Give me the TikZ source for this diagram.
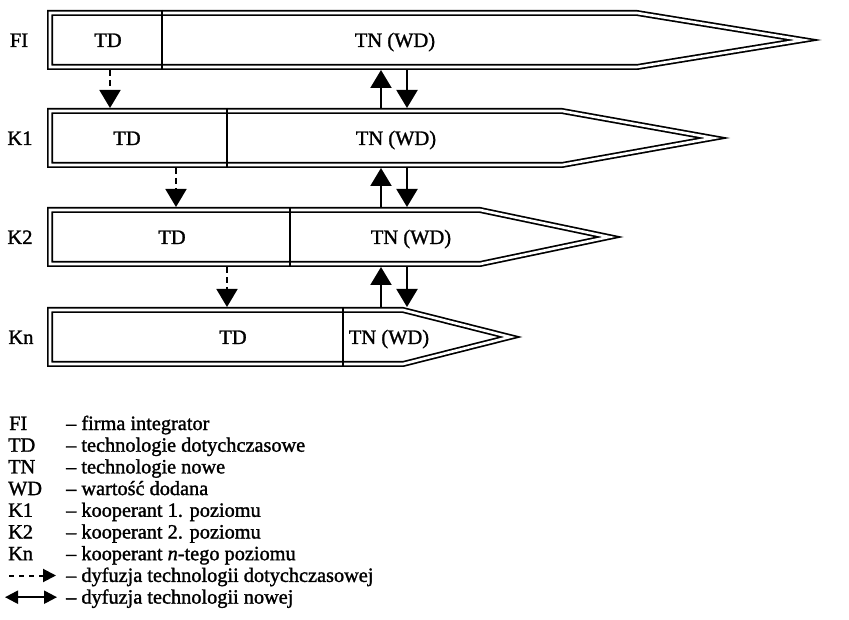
\documentclass[tikz,border=0pt]{standalone}
\usepackage{fontspec}
\setmainfont{Liberation Serif}[FakeBold=1.4]
\newfontfamily\scanfont{Liberation Serif}[FakeBold=1.4]
\usetikzlibrary{arrows.meta}
\begin{document}
\begin{tikzpicture}[x=1pt,y=-1pt,
  bar/.style={draw=black,double=white,line width=1.7pt,double distance=2.6pt,line join=miter},
  divider/.style={draw=black,line width=1.5pt},
  lbl/.style={font=\scanfont\fontsize{20.5}{23}\selectfont,inner sep=0pt,anchor=base},
  leg/.style={font=\scanfont\fontsize{20.3}{23}\selectfont,inner sep=0pt,anchor=base west},
  tdarrow/.style={line width=1.8pt,dash pattern=on 6pt off 4pt,-{Triangle[width=21pt,length=18pt]}},
  tnarrow/.style={line width=2pt,-{Triangle[width=21pt,length=18pt]}},
  legtd/.style={line width=2pt,dash pattern=on 5pt off 5pt,-{Triangle[width=13pt,length=13pt]}},
  legtn/.style={line width=2.2pt,{Triangle[width=13pt,length=13pt]}-{Triangle[width=13pt,length=13pt]}}]
\useasboundingbox (0,0) rectangle (849,620);

% bars (outer edge at +/- 3 from the path)
% FI
\draw[bar] (50,13) -- (637,13) -- (803,40) -- (637,67) -- (50,67) -- cycle;
\draw[divider] (162,10) -- (162,70);
% K1
\draw[bar] (50,111) -- (562,111) -- (713,138) -- (562,165) -- (50,165) -- cycle;
\draw[divider] (227,108) -- (227,168);
% K2
\draw[bar] (50,210) -- (480,210) -- (609,237) -- (480,264) -- (50,264) -- cycle;
\draw[divider] (290,207) -- (290,267);
% Kn
\draw[bar] (50,310) -- (403,310) -- (510,337) -- (403,364) -- (50,364) -- cycle;
\draw[divider] (343,307) -- (343,367);

% row labels
\node[lbl] (lFI) at (19,47) {FI};
\node[lbl] (lK1) at (20,145) {K1};
\node[lbl] (lK2) at (20,244) {K2};
\node[lbl] (lKn) at (21,344) {Kn};

% section labels
\node[lbl] (tdFI) at (108,47) {TD};
\node[lbl] (tnFI) at (395,47) {TN (WD)};
\node[lbl] (tdK1) at (127,145) {TD};
\node[lbl] (tnK1) at (396,145) {TN (WD)};
\node[lbl] (tdK2) at (172,244) {TD};
\node[lbl] (tnK2) at (411,244) {TN (WD)};
\node[lbl] (tdKn) at (233,344) {TD};
\node[lbl] (tnKn) at (389,344) {TN (WD)};

% arrow end points on the bars
\coordinate (a1s) at (110,70);  \coordinate (a1e) at (110,108);
\coordinate (a2s) at (176,168); \coordinate (a2e) at (176,207);
\coordinate (a3s) at (227,267); \coordinate (a3e) at (227,307);
\coordinate (u1s) at (381,108); \coordinate (u1e) at (381,70);
\coordinate (d1s) at (407,70);  \coordinate (d1e) at (407,108);
\coordinate (u2s) at (381,207); \coordinate (u2e) at (381,168);
\coordinate (d2s) at (407,168); \coordinate (d2e) at (407,207);
\coordinate (u3s) at (381,307); \coordinate (u3e) at (381,267);
\coordinate (d3s) at (407,267); \coordinate (d3e) at (407,307);

\draw[tdarrow] (a1s) -- (a1e);
\draw[tdarrow] (a2s) -- (a2e);
\draw[tdarrow] (a3s) -- (a3e);
\draw[tnarrow] (u1s) -- (u1e);
\draw[tnarrow] (d1s) -- (d1e);
\draw[tnarrow] (u2s) -- (u2e);
\draw[tnarrow] (d2s) -- (d2e);
\draw[tnarrow] (u3s) -- (u3e);
\draw[tnarrow] (d3s) -- (d3e);

% legend
\node[leg] (k1) at (9,430.0) {FI};
\node[leg] (v1) at (66,430.0) {– firma integrator};
\node[leg] (k2) at (8,451.7) {TD};
\node[leg] (v2) at (66,451.7) {– technologie dotychczasowe};
\node[leg] (k3) at (8,473.4) {TN};
\node[leg] (v3) at (66,473.4) {– technologie nowe};
\node[leg] (k4) at (8,495.1) {WD};
\node[leg] (v4) at (66,495.1) {– wartość dodana};
\node[leg] (k5) at (8,516.8) {K1};
\node[leg] (v5) at (66,516.8) {– kooperant 1. poziomu};
\node[leg] (k6) at (8,538.5) {K2};
\node[leg] (v6) at (66,538.5) {– kooperant 2. poziomu};
\node[leg] (k7) at (8,560.2) {Kn};
\node[leg] (v7) at (66,560.2) {– kooperant {\itshape n}-tego poziomu};
\node[leg] (v8) at (66,581.9) {– dyfuzja technologii dotychczasowej};
\node[leg] (v9) at (66,603.6) {– dyfuzja technologii nowej};
\coordinate (l8s) at (9,575.5); \coordinate (l8e) at (56,575.5);
\coordinate (l9s) at (5,597.2); \coordinate (l9e) at (57,597.2);
\draw[legtd] (l8s) -- (l8e);
\draw[legtn] (l9s) -- (l9e);
\end{tikzpicture}
\end{document}
